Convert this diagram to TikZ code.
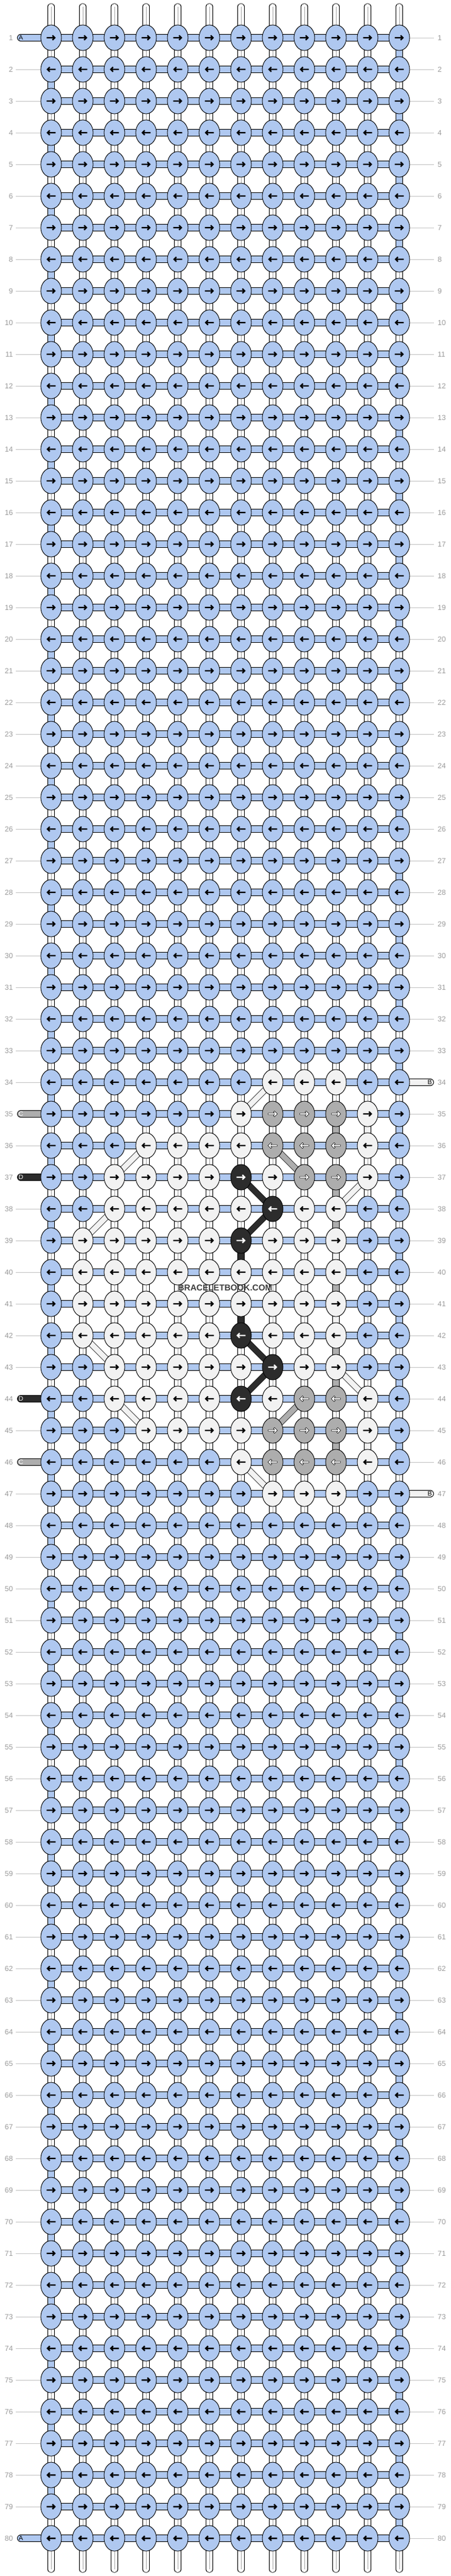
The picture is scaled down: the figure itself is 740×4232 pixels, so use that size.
\documentclass[tikz,border=0pt]{standalone}
\usepackage{fontspec}
\setmainfont{Liberation Sans}
\usetikzlibrary{shapes.geometric}
\definecolor{cB}{HTML}{AFC8F0}
\definecolor{cW}{HTML}{F2F2F2}
\definecolor{cG}{HTML}{ADADAD}
\definecolor{cK}{HTML}{2C2C2C}
\definecolor{lab}{HTML}{9A9A9A}
\definecolor{labline}{HTML}{C4C4C4}
\definecolor{midline}{HTML}{A8A8A8}
\definecolor{wm}{HTML}{3C3C3C}
\pgfdeclarelayer{bg}
\pgfsetlayers{bg,main}
\newcommand\bbsetrow[2]{\foreach \bbc [count=\bbi] in {#2}{\expandafter\xdef\csname kc-#1-\bbi\endcsname{\bbc}}}
\newcommand\bbsetv[3]{\expandafter\gdef\csname vc-#1-#2\endcsname{#3}}
\newcommand\bbarrow{(-7.3,-1.2) -- (3.1,-1.2) -- (1.3,-3.0) -- (3.0,-4.7) -- (7.7,0) -- (3.0,4.7) -- (1.3,3.0) -- (3.1,1.2) -- (-7.3,1.2) -- cycle}
\def\bbK{K}
\def\bbG{G}
\begin{document}
\begin{tikzpicture}[x=1pt,y=-1pt,
  knot/.style={ellipse, draw=black, line width=0.9pt, minimum width=34pt, minimum height=42pt, inner sep=0pt},
  hconn/.style={draw=black, line width=0.8pt, double=cB, double distance=10.2pt},
  vdbl/.style={draw=black, line width=0.8pt, double=white, double distance=9.7pt},
  vmid/.style={draw=midline, line width=0.7pt},
  vsolid/.style={draw=black, line width=0.8pt, double=#1, double distance=9.7pt},
  diag/.style={draw=black, line width=0.7pt, double=#1, double distance=8.6pt},
  tailv/.style={draw=black, line width=0.8pt, double=white, double distance=9.7pt, line cap=round},
  tailh/.style={draw=black, line width=0.8pt, double=#1, double distance=10.2pt, line cap=round},
  labl/.style={draw=labline, line width=1pt},
  numl/.style={anchor=east, inner sep=0pt, text=lab, font=\fontsize{12}{12}\selectfont},
  numr/.style={anchor=west, inner sep=0pt, text=lab, font=\fontsize{12}{12}\selectfont},
  tailtxt/.style={inner sep=0pt, font=\fontsize{10.5}{10.5}\selectfont}
]
\useasboundingbox (0,0) rectangle (740,4232);

% knot colours of the patterned rows
\bbsetrow{34}{B,B,B,B,B,B,B,W,W,W,B,B}
\bbsetrow{35}{B,B,B,B,B,B,W,G,G,G,W,B}
\bbsetrow{36}{B,B,B,W,W,W,W,G,G,G,W,B}
\bbsetrow{37}{B,B,W,W,W,W,K,W,G,G,W,B}
\bbsetrow{38}{B,B,W,W,W,W,W,K,W,W,B,B}
\bbsetrow{39}{B,W,W,W,W,W,K,W,W,W,B,B}
\bbsetrow{40}{B,W,W,W,W,W,W,W,W,W,B,B}
\bbsetrow{41}{B,W,W,W,W,W,W,W,W,W,B,B}
\bbsetrow{42}{B,W,W,W,W,W,K,W,W,W,B,B}
\bbsetrow{43}{B,B,W,W,W,W,W,K,W,W,B,B}
\bbsetrow{44}{B,B,W,W,W,W,K,W,G,G,W,B}
\bbsetrow{45}{B,B,B,W,W,W,W,G,G,G,W,B}
\bbsetrow{46}{B,B,B,B,B,B,W,G,G,G,W,B}
\bbsetrow{47}{B,B,B,B,B,B,B,W,W,W,B,B}

% solid vertical segments (row above, column, colour)
\bbsetv{35}{10}{G}\bbsetv{37}{10}{G}\bbsetv{38}{10}{G}\bbsetv{39}{10}{W}
\bbsetv{40}{10}{G}\bbsetv{41}{10}{W}\bbsetv{42}{10}{G}\bbsetv{43}{10}{G}\bbsetv{45}{10}{G}
\bbsetv{35}{11}{W}\bbsetv{45}{11}{W}
\bbsetv{39}{7}{K}\bbsetv{41}{7}{K}
\bbsetv{40}{2}{W}

% knots and arrows
\foreach \r in {1,...,80}{
  \foreach \c in {1,...,12}{
    \ifcsname kc-\r-\c\endcsname\edef\kc{\csname kc-\r-\c\endcsname}\else\def\kc{B}\fi
    \edef\kfill{c\kc}
    \node[knot, fill=\kfill] (n-\r-\c) at ({84+52*(\c-1)},{62+52*(\r-1)}) {};
    \ifodd\r\relax\def\dir{1}\else\def\dir{-1}\fi
    \ifx\kc\bbK
      \fill[white, shift={(n-\r-\c.center)}, xscale=\dir] \bbarrow;
    \else\ifx\kc\bbG
      \filldraw[fill=white, draw=black, line width=0.5pt, shift={(n-\r-\c.center)}, xscale=\dir] \bbarrow;
    \else
      \fill[black, shift={(n-\r-\c.center)}, xscale=\dir] \bbarrow;
    \fi\fi
  }
}

\begin{pgfonlayer}{bg}
  % horizontal thread
  \foreach \r in {1,...,80}{
    \foreach \c in {1,...,11}{
      \pgfmathtruncatemacro\d{\c+1}
      \draw[hconn] (n-\r-\c.center) -- (n-\r-\d.center);
    }
  }
  % vertical segments
  \foreach \r in {1,...,79}{
    \pgfmathtruncatemacro\s{\r+1}
    \foreach \c in {1,...,12}{
      \def\vt{}
      \ifnum\c=1\relax\ifodd\r\relax\else\def\vt{B}\fi\fi
      \ifnum\c=12\relax\ifodd\r\relax\def\vt{B}\fi\fi
      \ifcsname vc-\r-\c\endcsname\edef\vt{\csname vc-\r-\c\endcsname}\fi
      \ifx\vt\empty
        \draw[vdbl] (n-\r-\c.center) -- (n-\s-\c.center);
        \draw[vmid] (n-\r-\c.center) -- (n-\s-\c.center);
      \else
        \edef\vfill{c\vt}
        \draw[vsolid=\vfill] (n-\r-\c.center) -- (n-\s-\c.center);
      \fi
    }
  }
  % diagonal segments
  \foreach \ra/\ca/\rb/\cb/\dc in {34/8/35/7/W, 36/4/37/3/W, 38/3/39/2/W, 36/8/37/9/G,
      37/11/38/10/W, 37/7/38/8/K, 38/8/39/7/K, 42/2/43/3/W, 44/3/45/4/W, 42/7/43/8/K,
      43/8/44/7/K, 43/10/44/11/W, 44/9/45/8/G, 46/7/47/8/W}{
    \edef\dfill{c\dc}
    \draw[diag=\dfill] (n-\ra-\ca.center) -- (n-\rb-\cb.center);
  }
  % top and bottom ends of the vertical strings
  \foreach \c in {1,...,12}{
    \coordinate (tt-\c) at ({84+52*(\c-1)},11);
    \coordinate (bt-\c) at ({84+52*(\c-1)},4221);
    \draw[tailv] (tt-\c) -- (n-1-\c.center);
    \draw[vmid] (tt-\c) -- (n-1-\c.center);
    \draw[tailv] (bt-\c) -- (n-80-\c.center);
    \draw[vmid] (bt-\c) -- (n-80-\c.center);
  }
  % left string ends
  \foreach \r/\tcol in {1/cB, 35/cG, 37/cK, 44/cK, 46/cG, 80/cB}{
    \coordinate (lt-\r) at (34,{62+52*(\r-1)});
    \draw[tailh=\tcol] (lt-\r) -- (n-\r-1.center);
    \expandafter\gdef\csname hasl-\r\endcsname{}
  }
  % right string ends
  \foreach \r in {34,47}{
    \coordinate (rt-\r) at (707,{62+52*(\r-1)});
    \draw[tailh=cW] (rt-\r) -- (n-\r-12.center);
    \expandafter\gdef\csname hasr-\r\endcsname{}
  }
  % label lines
  \foreach \r in {1,...,80}{
    \ifcsname hasl-\r\endcsname\else
      \coordinate (ll-\r) at (26,{62+52*(\r-1)});
      \draw[labl] (ll-\r) -- (n-\r-1.center);
    \fi
    \ifcsname hasr-\r\endcsname\else
      \coordinate (rl-\r) at (713,{62+52*(\r-1)});
      \draw[labl] (n-\r-12.center) -- (rl-\r);
    \fi
  }
\end{pgfonlayer}

% string letters
\foreach \r/\txt/\tc in {1/A/black, 35/C/white, 37/D/white, 44/D/white, 46/C/white, 80/A/black}{
  \node[tailtxt, text=\tc] (ltx-\r) at (34.5,{62+52*(\r-1)}) {\txt};
}
\foreach \r in {34,47}{
  \node[tailtxt, text=black] (rtx-\r) at (706,{62+52*(\r-1)}) {B};
}

% row numbers
\foreach \r in {1,...,80}{
  \node[numl] (nl-\r) at (21.5,{62+52*(\r-1)}) {\r};
  \node[numr] (nr-\r) at (719,{62+52*(\r-1)}) {\r};
}

% watermark
\node[inner sep=0pt, text=wm, font=\bfseries\fontsize{14}{14}\selectfont] (wmk) at (370,2116) {BRACELETBOOK.COM};
\end{tikzpicture}
\end{document}
